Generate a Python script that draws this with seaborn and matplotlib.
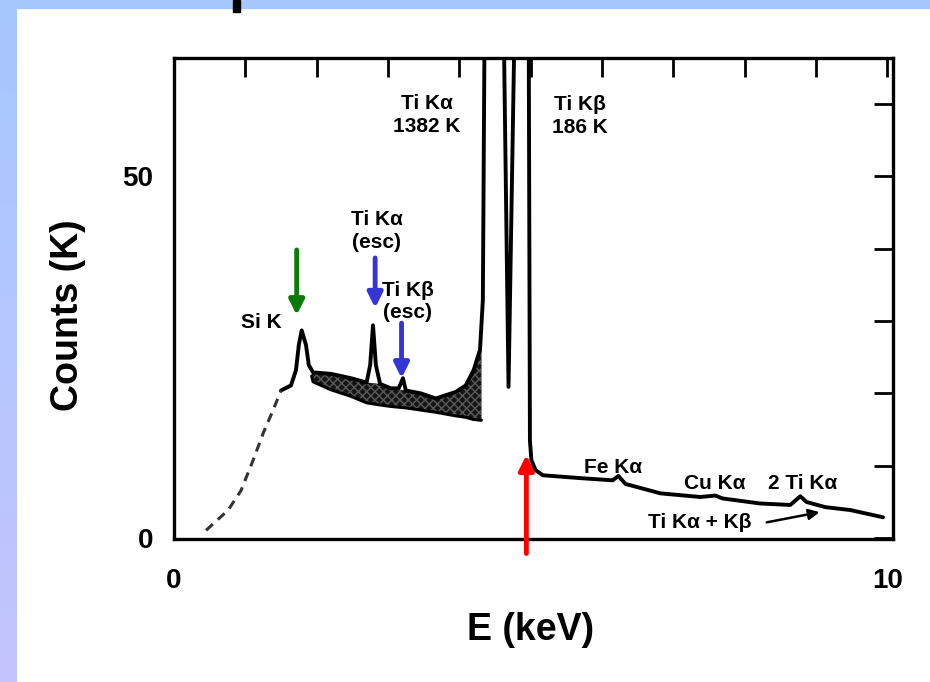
import numpy as np
import pandas as pd
import matplotlib.pyplot as plt
import seaborn as sns
from matplotlib.patches import Rectangle
from matplotlib.ticker import FixedLocator, FixedFormatter

# Spectrum: energy in keV, counts in K
e_dashed = [0.45, 0.76, 0.94, 1.11, 1.25, 1.39, 1.50]
c_dashed = [1.1, 3.9, 6.6, 10.8, 14.5, 17.7, 20.4]

e_solid = [1.50, 1.64, 1.71, 1.75, 1.79, 1.85, 1.89, 1.95, 2.20, 2.48,
           2.70, 2.75, 2.79, 2.83, 2.89, 3.04, 3.15, 3.21, 3.25, 3.46,
           3.67, 3.95, 4.09, 4.20, 4.29, 4.33, 4.36, 4.50, 4.61, 4.69,
           4.79, 4.97, 4.99, 5.01, 5.07, 5.17, 5.70, 6.15, 6.23, 6.33,
           6.82, 7.38, 7.59, 7.69, 8.22, 8.64, 8.78, 8.87, 9.13, 9.48, 9.94]
c_solid = [20.4, 21.1, 23.2, 26.7, 28.7, 26.7, 23.9, 22.9, 22.7, 22.1,
           21.5, 23.9, 29.4, 23.9, 21.3, 20.7, 20.7, 22.1, 20.4, 20.0,
           19.3, 20.2, 21.1, 23.2, 26.0, 32.9, 80.0, 80.0, 80.0, 20.9,
           80.0, 80.0, 13.5, 10.8, 9.4, 8.7, 8.3, 8.0, 8.6, 7.5,
           6.2, 5.7, 5.9, 5.5, 4.8, 4.6, 5.8, 5.0, 4.3, 3.9, 2.9]

# shaded shelf under the low-energy part
e_shelf = [1.93, 1.95, 2.20, 2.48, 2.70, 2.89, 3.04, 3.25, 3.46, 3.67, 3.95, 4.09, 4.20, 4.29, 4.31]
c_shelf_top = [22.6, 22.9, 22.7, 22.1, 21.5, 21.3, 20.7, 20.4, 20.0, 19.3, 20.2, 21.1, 23.2, 26.0, 30.0]
c_shelf_bottom = [22.4, 21.6, 20.5, 19.6, 18.7, 18.4, 18.2, 18.0, 17.7, 17.4, 16.9, 16.7, 16.4, 16.3, 16.3]

x_ticks = list(range(11))
x_tick_labels = ['0'] + [''] * 9 + ['10']
y_ticks = [0, 10, 20, 30, 40, 50, 60]
y_tick_labels = ['0', '', '', '', '', '50', '']

# peak labels: text, E, counts
peak_labels = [
    ('Ti K\u03b1\n1382 K', 3.54, 58.4),
    ('Ti K\u03b2\n186 K', 5.69, 58.3),
    ('Si K', 1.22, 29.8),
    ('Ti K\u03b1\n(esc)', 2.84, 42.4),
    ('Ti K\u03b2\n(esc)', 3.28, 32.7),
    ('Fe K\u03b1', 6.15, 9.8),
    ('Cu K\u03b1', 7.58, 7.6),
    ('2 Ti K\u03b1', 8.81, 7.6),
    ('Ti K\u03b1 + K\u03b2', 7.37, 2.2),
]

# coloured pointers added on the slide: E, tail counts, head counts, colour
pointers = [
    (1.72, 39.8, 30.8, '#0a7a0a'),
    (2.82, 38.7, 31.8, '#3535d5'),
    (3.19, 29.7, 22.1, '#3535d5'),
    (4.94, -2.1, 11.5, '#ff0000'),
]

sns.set_style("white")
plt.rcParams['font.family'] = ['Liberation Sans', 'DejaVu Sans']
plt.rcParams['font.weight'] = 'bold'
plt.rcParams['text.color'] = 'black'
plt.rcParams['axes.labelcolor'] = 'black'
plt.rcParams['xtick.color'] = 'black'
plt.rcParams['ytick.color'] = 'black'

fig = plt.figure(figsize=(9.3, 6.82), dpi=100)
fig.patch.set_facecolor('white')

# slide decoration: blue gradient strip on the left, band on top
strip = fig.add_axes([0, 0, 16 / 930, 1])
top_col = np.array([166, 200, 255]) / 255
bot_col = np.array([196, 196, 253]) / 255
grad = np.linspace(0, 1, 200)[:, None, None] * (bot_col - top_col) + top_col
strip.imshow(grad, aspect='auto', extent=[0, 1, 0, 1])
strip.axis('off')
fig.patches.append(Rectangle((0, 1 - 8 / 682), 1, 8 / 682, transform=fig.transFigure,
                             color='#a6c8ff', zorder=0))
fig.patches.append(Rectangle((233 / 930, 1 - 12 / 682), 7 / 930, 12 / 682,
                             transform=fig.transFigure, color='black', zorder=1))

ax = fig.add_axes([174 / 930, (682 - 539) / 682, 719 / 930, 481 / 682])

df_solid = pd.DataFrame({'E': e_solid, 'C': c_solid})
df_dashed = pd.DataFrame({'E': e_dashed, 'C': c_dashed})

ax.fill_between(e_shelf, c_shelf_bottom, c_shelf_top, facecolor='#151515',
                edgecolor='#5a5a5a', hatch='xxxx', linewidth=0, zorder=2)
ax.plot(e_shelf, c_shelf_bottom, color='black', lw=2.2, zorder=3)
sns.lineplot(data=df_solid, x='E', y='C', sort=False, estimator=None,
             color='black', lw=2.8, ax=ax, zorder=4)
sns.lineplot(data=df_dashed, x='E', y='C', sort=False, estimator=None,
             color='#333333', lw=2.2, ax=ax, zorder=4)
ax.lines[-1].set_dashes([3, 2.2])

ax.set_xlim(0, 10.08)
ax.set_ylim(-0.1, 66.3)

ax.xaxis.set_major_locator(FixedLocator(x_ticks))
ax.xaxis.set_major_formatter(FixedFormatter(x_tick_labels))
ax.yaxis.set_major_locator(FixedLocator(y_ticks))
ax.yaxis.set_major_formatter(FixedFormatter(y_tick_labels))
ax.tick_params(axis='both', direction='in', length=14, width=2, color='black',
               top=True, right=True, labelsize=20)
ax.tick_params(axis='x', pad=21)
ax.tick_params(axis='y', pad=15)
for lab in ax.get_xticklabels() + ax.get_yticklabels():
    lab.set_fontweight('bold')
for sp in ax.spines.values():
    sp.set_linewidth(2.4)
    sp.set_color('black')

ax.set_xlabel('E (keV)', fontsize=27, fontweight='bold')
ax.set_ylabel('Counts (K)', fontsize=27, fontweight='bold')
ax.xaxis.set_label_coords(0.496, -0.152)
ax.yaxis.set_label_coords(-0.122, 0.466)

for txt, e, c in peak_labels:
    ax.text(e, c, txt, ha='center', va='center', fontsize=15,
            fontweight='bold', linespacing=1.25, zorder=5)

# leader from the "Ti Ka + Kb" label to the sum peak
ax.annotate('', xy=(9.05, 3.6), xytext=(8.31, 2.2),
            arrowprops=dict(arrowstyle='-|>', color='black', lw=1.8,
                            mutation_scale=16, shrinkA=0, shrinkB=0), zorder=5)

for e, c0, c1, col in pointers:
    ax.annotate('', xy=(e, c1), xytext=(e, c0), annotation_clip=False,
                arrowprops=dict(arrowstyle='-|>', color=col, lw=3.5,
                                mutation_scale=22, shrinkA=0, shrinkB=0), zorder=6)

fig.savefig('out.png', dpi=100)
